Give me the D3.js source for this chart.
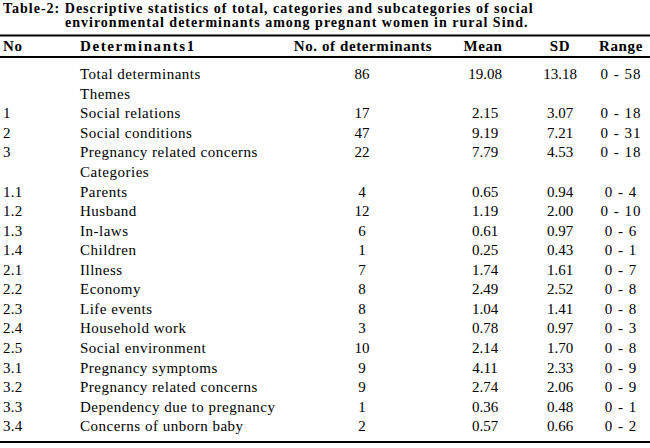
<!DOCTYPE html>
<html>
<head>
<meta charset="utf-8">
<script src="https://cdn.jsdelivr.net/npm/d3@7"></script>
<style>
  body { margin: 0; background: #fff; }
</style>
</head>
<body>
<div id="table"></div>
<script>
// table data
const titleLines = [
    "Table-2: Descriptive statistics of total, categories and subcategories of social",
    "environmental determinants among pregnant women in rural Sind."
];
const headers = ["No", "Determinants1", "No. of determinants", "Mean", "SD", "Range"];

const nos = ["", "", "1", "2", "3", "", "1.1", "1.2", "1.3", "1.4", "2.1", "2.2", "2.3", "2.4", "2.5", "3.1", "3.2", "3.3", "3.4"];
const names = ["Total determinants", "Themes", "Social relations", "Social conditions", "Pregnancy related concerns",
    "Categories", "Parents", "Husband", "In-laws", "Children", "Illness", "Economy", "Life events", "Household work",
    "Social environment", "Pregnancy symptoms", "Pregnancy related concerns", "Dependency due to pregnancy", "Concerns of unborn baby"];
const counts = ["86", "", "17", "47", "22", "", "4", "12", "6", "1", "7", "8", "8", "3", "10", "9", "9", "1", "2"];
const means = ["19.08", "", "2.15", "9.19", "7.79", "", "0.65", "1.19", "0.61", "0.25", "1.74", "2.49", "1.04", "0.78", "2.14", "4.11", "2.74", "0.36", "0.57"];
const sds = ["13.18", "", "3.07", "7.21", "4.53", "", "0.94", "2.00", "0.97", "0.43", "1.61", "2.52", "1.41", "0.97", "1.70", "2.33", "2.06", "0.48", "0.66"];
const ranges = ["0 - 58", "", "0 - 18", "0 - 31", "0 - 18", "", "0 - 4", "0 - 10", "0 - 6", "0 - 1", "0 - 7", "0 - 8", "0 - 8", "0 - 3", "0 - 8", "0 - 9", "0 - 9", "0 - 1", "0 - 2"];

const width = 650, height = 448;
const serif = "Liberation Serif";

const svg = d3.select("#table").append("svg")
    .attr("width", width)
    .attr("height", height);

// title
svg.selectAll("text.title")
    .data(titleLines)
    .enter()
    .append("text")
    .attr("class", "title")
    .attr("x", (d, i) => i === 0 ? 3 : 65)
    .attr("y", (d, i) => 13 + i * 14)
    .style("font-family", serif)
    .style("font-size", "14px")
    .style("font-weight", "bold")
    .style("letter-spacing", "1px")
    .text(d => d);

// columns: x position, anchor, letter spacing (body / header)
const cols = [
    { x: 3, hx: 3, anchor: "start", ls: 0.3, hls: 0.6 },
    { x: 80, hx: 80, anchor: "start", ls: 0.5, hls: 1.6 },
    { x: 362, hx: 363, anchor: "middle", ls: 0, hls: 0.6 },
    { x: 485, hx: 483, anchor: "middle", ls: 0, hls: 0.6 },
    { x: 560, hx: 560, anchor: "middle", ls: 0, hls: 0.6 },
    { x: 621, hx: 621, anchor: "middle", ls: 1, hls: 0.6 }
];

// rules
const rules = [35.5, 57, 442];
svg.selectAll("line.rule")
    .data(rules)
    .enter()
    .append("line")
    .attr("class", "rule")
    .attr("x1", 0).attr("x2", width)
    .attr("y1", d => d).attr("y2", d => d)
    .attr("stroke", "#000")
    .attr("stroke-width", 2);

// header
svg.append("g")
    .selectAll("text")
    .data(headers)
    .enter()
    .append("text")
    .attr("x", (d, i) => cols[i].hx)
    .attr("y", 46)
    .attr("dy", "0.35em")
    .attr("text-anchor", (d, i) => cols[i].anchor)
    .style("font-family", serif)
    .style("font-size", "15px")
    .style("font-weight", "bold")
    .style("letter-spacing", (d, i) => cols[i].hls + "px")
    .text(d => d);

// body rows
const rows = names.map((n, i) => [nos[i], n, counts[i], means[i], sds[i], ranges[i]]);

const y = d3.scalePoint()
    .domain(d3.range(rows.length))
    .range([74, 426]);

const rowG = svg.append("g")
    .selectAll("g")
    .data(rows)
    .enter()
    .append("g")
    .attr("transform", (d, i) => "translate(0," + y(i) + ")");

rowG.selectAll("text")
    .data(d => d)
    .enter()
    .append("text")
    .attr("x", (d, i) => cols[i].x)
    .attr("dy", "0.35em")
    .attr("text-anchor", (d, i) => cols[i].anchor)
    .style("font-family", serif)
    .style("font-size", "15px")
    .style("letter-spacing", (d, i) => cols[i].ls + "px")
    .text(d => d);
</script>
</body>
</html>
